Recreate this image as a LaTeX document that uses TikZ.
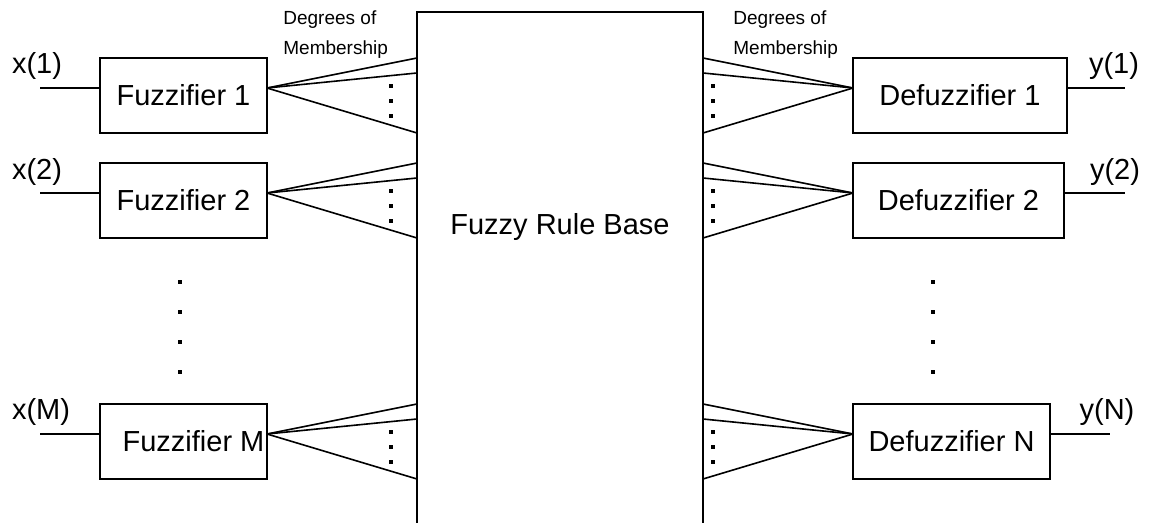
\documentclass[tikz,border=0pt]{standalone}
\usepackage{fontspec}
\setmainfont{Liberation Sans}
\usetikzlibrary{calc}
\begin{document}
\begin{tikzpicture}[x=0.5pt,y=-0.5pt,
  blk/.style={draw, line width=1pt, inner sep=0pt, outer sep=0pt, minimum height=37.5pt, font=\fontsize{14.5}{17}\selectfont},
  lbl/.style={inner sep=0pt, font=\fontsize{14.5}{17}\selectfont},
  small/.style={inner sep=0pt, anchor=west, font=\fontsize{9.5}{11}\selectfont},
  fan/.style={line width=0.8pt},
  wire/.style={line width=0.8pt},
  dotmark/.style={fill=black}]
\useasboundingbox (0,0) rectangle (1152,523);

% rule base (open at the bottom)
\node[inner sep=0pt, outer sep=0pt, minimum width=143pt, minimum height=215pt,
      font=\fontsize{14.5}{17}\selectfont] (rb) at (560,227) {Fuzzy Rule Base};
\coordinate (bot) at (0,523);
\draw[line width=1pt] (rb.north west |- bot) -- (rb.north west) -- (rb.north east) -- (rb.north east |- bot);

% fuzzifiers
\node[blk, minimum width=83.5pt] (f1) at (183.5,95.5) {Fuzzifier 1};
\node[blk, minimum width=83.5pt] (f2) at (183.5,200.5) {Fuzzifier 2};
\node[blk, minimum width=83.5pt] (fM) at (183.5,441.5) {\hspace*{10pt}Fuzzifier M};

% defuzzifiers
\node[blk, minimum width=107pt] (d1) at (960,95.5) {Defuzzifier 1};
\node[blk, minimum width=105.5pt] (d2) at (958.5,200.5) {Defuzzifier 2};
\node[blk, minimum width=98.5pt] (dN) at (951.5,441.5) {Defuzzifier N};

% fans, inputs, outputs
\foreach \n in {f1,f2,fM} {
  \coordinate (\n o) at ($(\n.north east)+(0,30)$);
  \coordinate (\n i) at ($(\n.north west)+(0,30)$);
  \coordinate (\n in) at ($(\n.north west)+(-60,30)$);
  \draw[fan] (\n o) -- (rb.west |- \n.north);
  \draw[fan] (\n o) -- ($(rb.west |- \n.north)+(0,15)$);
  \draw[fan] (\n o) -- (rb.west |- \n.south);
  \draw[wire] (\n in) -- (\n i);
  \foreach \dy in {28,43,58}
    \fill[dotmark] ($(rb.west |- \n.north)+(-26,\dy)$) ++(-1.6,-1.6) rectangle ++(3.2,3.2);
}
\foreach \n/\len in {d1/58,d2/61,dN/60} {
  \coordinate (\n i) at ($(\n.north west)+(0,30)$);
  \coordinate (\n o) at ($(\n.north east)+(0,30)$);
  \coordinate (\n out) at ($(\n.north east)+(\len,30)$);
  \draw[fan] (\n i) -- (rb.east |- \n.north);
  \draw[fan] (\n i) -- ($(rb.east |- \n.north)+(0,15)$);
  \draw[fan] (\n i) -- (rb.east |- \n.south);
  \draw[wire] (\n o) -- (\n out);
  \foreach \dy in {28,43,58}
    \fill[dotmark] ($(rb.east |- \n.north)+(10,\dy)$) ++(-1.6,-1.6) rectangle ++(3.2,3.2);
}

% vertical ellipsis dots
\foreach \y in {282,312,342,372} {
  \fill[dotmark] (180,\y) ++(-1.8,-1.8) rectangle ++(3.6,3.6);
  \fill[dotmark] (933,\y) ++(-1.8,-1.8) rectangle ++(3.6,3.6);
}

% labels
\node[lbl] (lx1) at (37,66) {x(1)};
\node[lbl] (lx2) at (37,172) {x(2)};
\node[lbl] (lxM) at (41,412) {x(M)};
\node[lbl] (ly1) at (1114,66) {y(1)};
\node[lbl] (ly2) at (1115,172) {y(2)};
\node[lbl] (lyN) at (1107,412) {y(N)};

\node[small] (dl1) at (283,20) {Degrees of};
\node[small] (dl2) at (283,50) {Membership};
\node[small] (dr1) at (733,20) {Degrees of};
\node[small] (dr2) at (733,50) {Membership};
\end{tikzpicture}
\end{document}
